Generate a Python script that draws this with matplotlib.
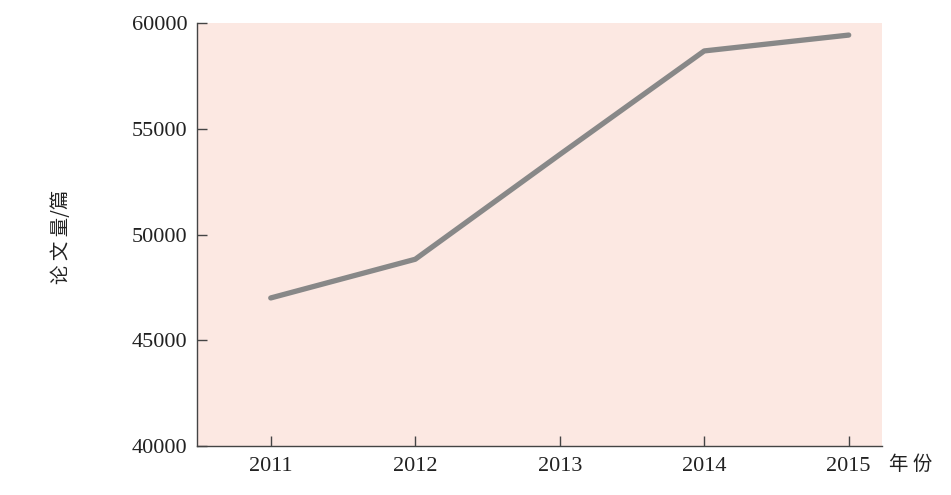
import matplotlib.pyplot as plt

years = [2011, 2012, 2013, 2014, 2015]
papers = [47000, 48830, 53780, 58680, 59430]
yticks = [40000, 45000, 50000, 55000, 60000]

plt.rcParams['font.family'] = ['Liberation Serif', 'Noto Sans CJK SC', 'DejaVu Sans']

fig = plt.figure(figsize=(9.51, 4.95), dpi=100)
ax = fig.add_axes([0.2072, 0.099, 0.7202, 0.8545])
ax.set_facecolor('#fce8e2')

ax.plot(years, papers, color='#888888', linewidth=3.8, solid_capstyle='round')

ax.set_xlim(2010.49, 2015.23)
ax.set_ylim(40000, 60000)
ax.set_xticks(years)
ax.set_yticks(yticks)

for s in ['top', 'right']:
    ax.spines[s].set_visible(False)
for s in ['left', 'bottom']:
    ax.spines[s].set_color('#444444')
    ax.spines[s].set_linewidth(1.0)

ax.tick_params(direction='in', length=7, width=1, color='#444444',
               labelsize=16, labelcolor='#222222')
ax.tick_params(axis='x', pad=8)
ax.tick_params(axis='y', pad=7)

fig.text(0.065, 0.521, '论 文 量/篇', rotation=90, ha='center', va='center',
         fontsize=14, color='#222222', family=['Noto Sans CJK SC'])
fig.text(0.958, 0.061, '年 份', ha='center', va='center',
         fontsize=14, color='#222222', family=['Noto Sans CJK SC'])

fig.savefig('out.png', dpi=100)
